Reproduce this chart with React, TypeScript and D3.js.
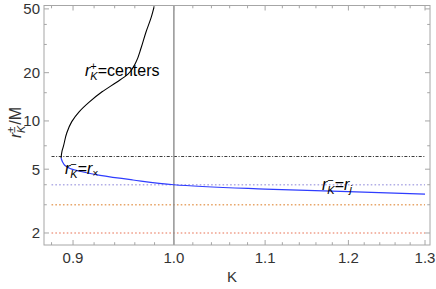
import React from "react";
import * as d3 from "d3";

// ---- data ----
const xMajorTicks = [0.9, 1.0, 1.1, 1.2, 1.3];
const xMajorLabels = ["0.9", "1.0", "1.1", "1.2", "1.3"];
const xMinorTicks = [0.88, 0.92, 0.94, 0.96, 0.98, 1.02, 1.04, 1.06, 1.08, 1.12, 1.14, 1.16, 1.18, 1.22, 1.24, 1.26, 1.28];
const yMajorTicks = [2, 5, 10, 20, 50];
const yMajorLabels = ["2", "5", "10", "20", "50"];
const yMinorTicks = [3, 4, 7, 15, 30, 40];

// r_K^+ (centers), black
const plusK = [0.8888, 0.8897, 0.8909, 0.8941, 0.8988, 0.9057, 0.9153, 0.9277, 0.9423, 0.9532, 0.9612, 0.9663, 0.9713, 0.9764, 0.9805];
const plusR = [5.87, 6.49, 6.91, 8.41, 9.9, 11.4, 13.1, 15.2, 17.5, 19.6, 23.3, 28.5, 35.9, 43.9, 54.4];

// r_K^- , blue
const minusK = [0.8888, 0.8902, 0.8925, 0.8972, 0.9095, 0.9258, 0.9582, 1.0, 1.1, 1.2, 1.3];
const minusR = [5.87, 5.55, 5.27, 5.05, 4.8, 4.57, 4.28, 4.0, 3.76, 3.62, 3.5];

// horizontal reference radii
const refLevels = [6, 4, 3, 2];
const refKStart = 0.88;
const refKEnd = 1.3;
const verticalK = 1.0;

// ---- styles ----
const refStyles = [
  { stroke: "#3a3a3a", dash: "3,1.6,1,1.6", width: 1.1 },
  { stroke: "#b2aee6", dash: "1.6,2.2", width: 1.6 },
  { stroke: "#e8a66a", dash: "1.6,2.2", width: 1.6 },
  { stroke: "#f0a08c", dash: "1.6,2.2", width: 1.6 },
];

const W = 436;
const H = 289;
const L = 44, R = 430, T = 5.5, B = 245;
const FONT = "'Liberation Sans', Arial, sans-serif";

export default function App() {
  const x = d3.scaleLog().domain([0.8731, 1.3068]).range([L, R]);
  const y = d3.scaleLog().domain([1.683, 52.5]).range([B, T]);

  const plusPts: [number, number][] = plusK.map((k, i) => [x(k), y(plusR[i])]);
  const minusPts: [number, number][] = minusK.map((k, i) => [x(k), y(minusR[i])]);
  const linePlus = d3.line().curve(d3.curveMonotoneY)(plusPts) || "";
  const lineMinus = d3.line().curve(d3.curveCatmullRom.alpha(0.5))(minusPts) || "";

  const axisColor = "#a6a6a6";
  const tickColor = "#a6a6a6";
  const labelColor = "#333";

  return (
    <svg width={W} height={H} style={{ position: "absolute", left: 0, top: 0, background: "#fff" }} fontFamily={FONT}>
      <defs>
        <clipPath id="plot">
          <rect x={L} y={T} width={R - L} height={B - T} />
        </clipPath>
      </defs>

      {/* reference lines */}
      <g clipPath="url(#plot)">
        {refLevels.map((r, i) => (
          <line key={"ref" + i} x1={x(refKStart)} x2={x(refKEnd)} y1={y(r)} y2={y(r)}
            stroke={refStyles[i].stroke} strokeWidth={refStyles[i].width} strokeDasharray={refStyles[i].dash} />
        ))}
        <line x1={x(verticalK)} x2={x(verticalK)} y1={T} y2={B} stroke="#8c8c8c" strokeWidth={1.4} />
        <path d={linePlus} fill="none" stroke="#000" strokeWidth={1.1} />
        <path d={lineMinus} fill="none" stroke="#2f3dff" strokeWidth={1.2} />
      </g>

      {/* frame */}
      <rect x={L} y={T} width={R - L} height={B - T} fill="none" stroke={axisColor} strokeWidth={1} />

      {/* x ticks */}
      {xMajorTicks.map((k) => (
        <g key={"xM" + k}>
          <line x1={x(k)} x2={x(k)} y1={B} y2={B - 5} stroke={tickColor} />
          <line x1={x(k)} x2={x(k)} y1={T} y2={T + 5} stroke={tickColor} />
        </g>
      ))}
      {xMinorTicks.map((k) => (
        <g key={"xm" + k}>
          <line x1={x(k)} x2={x(k)} y1={B} y2={B - 2.8} stroke={tickColor} />
          <line x1={x(k)} x2={x(k)} y1={T} y2={T + 2.8} stroke={tickColor} />
        </g>
      ))}
      {xMajorTicks.map((k, i) => (
        <text key={"xl" + k} x={x(k)} y={263} textAnchor="middle" fontSize={15} fill={labelColor}>{xMajorLabels[i]}</text>
      ))}

      {/* y ticks */}
      {yMajorTicks.map((r) => (
        <g key={"yM" + r}>
          <line x1={L} x2={L + 5} y1={y(r)} y2={y(r)} stroke={tickColor} />
          <line x1={R} x2={R - 5} y1={y(r)} y2={y(r)} stroke={tickColor} />
        </g>
      ))}
      {yMinorTicks.map((r) => (
        <g key={"ym" + r}>
          <line x1={L} x2={L + 2.8} y1={y(r)} y2={y(r)} stroke={tickColor} />
          <line x1={R} x2={R - 2.8} y1={y(r)} y2={y(r)} stroke={tickColor} />
        </g>
      ))}
      {yMajorTicks.map((r, i) => (
        <text key={"yl" + r} x={40} y={y(r)} dy="0.36em" textAnchor="end" fontSize={15} fill={labelColor}>{yMajorLabels[i]}</text>
      ))}

      {/* axis labels */}
      <text x={232} y={282} textAnchor="middle" fontSize={15} fill={labelColor}>K</text>
      <g transform="translate(21,138) rotate(-90)">
        <text x={0} y={0} fontSize={16} fill={labelColor}>
          <tspan fontStyle="italic">r</tspan>
          <tspan fontSize={11} dy={-6}>±</tspan>
          <tspan fontSize={11} fontStyle="italic" dx={-6.4} dy={10}>K</tspan>
          <tspan dx={1} dy={-4}>/M</tspan>
        </text>
      </g>

      {/* curve labels */}
      <text x={85} y={76} fontSize={16} fill="#000">
        <tspan fontStyle="italic">r</tspan>
        <tspan fontSize={11} dy={-6}>+</tspan>
        <tspan fontSize={11} fontStyle="italic" dx={-6.4} dy={10}>K</tspan>
        <tspan dy={-4}>=centers</tspan>
      </text>
      <text x={65} y={174} fontSize={16} fill="#000">
        <tspan fontStyle="italic">r</tspan>
        <tspan fontSize={11} dy={-6}>−</tspan>
        <tspan fontSize={11} fontStyle="italic" dx={-6.4} dy={10}>K</tspan>
        <tspan dy={-4}>=</tspan>
        <tspan fontStyle="italic">r</tspan>
        <tspan fontSize={10} dy={3}>×</tspan>
      </text>
      <text x={322} y={190} fontSize={16} fill="#000">
        <tspan fontStyle="italic">r</tspan>
        <tspan fontSize={11} dy={-6}>−</tspan>
        <tspan fontSize={11} fontStyle="italic" dx={-6.4} dy={10}>K</tspan>
        <tspan dy={-4}>=</tspan>
        <tspan fontStyle="italic">r</tspan>
        <tspan fontSize={11} fontStyle="italic" dy={3}>j</tspan>
      </text>
    </svg>
  );
}
